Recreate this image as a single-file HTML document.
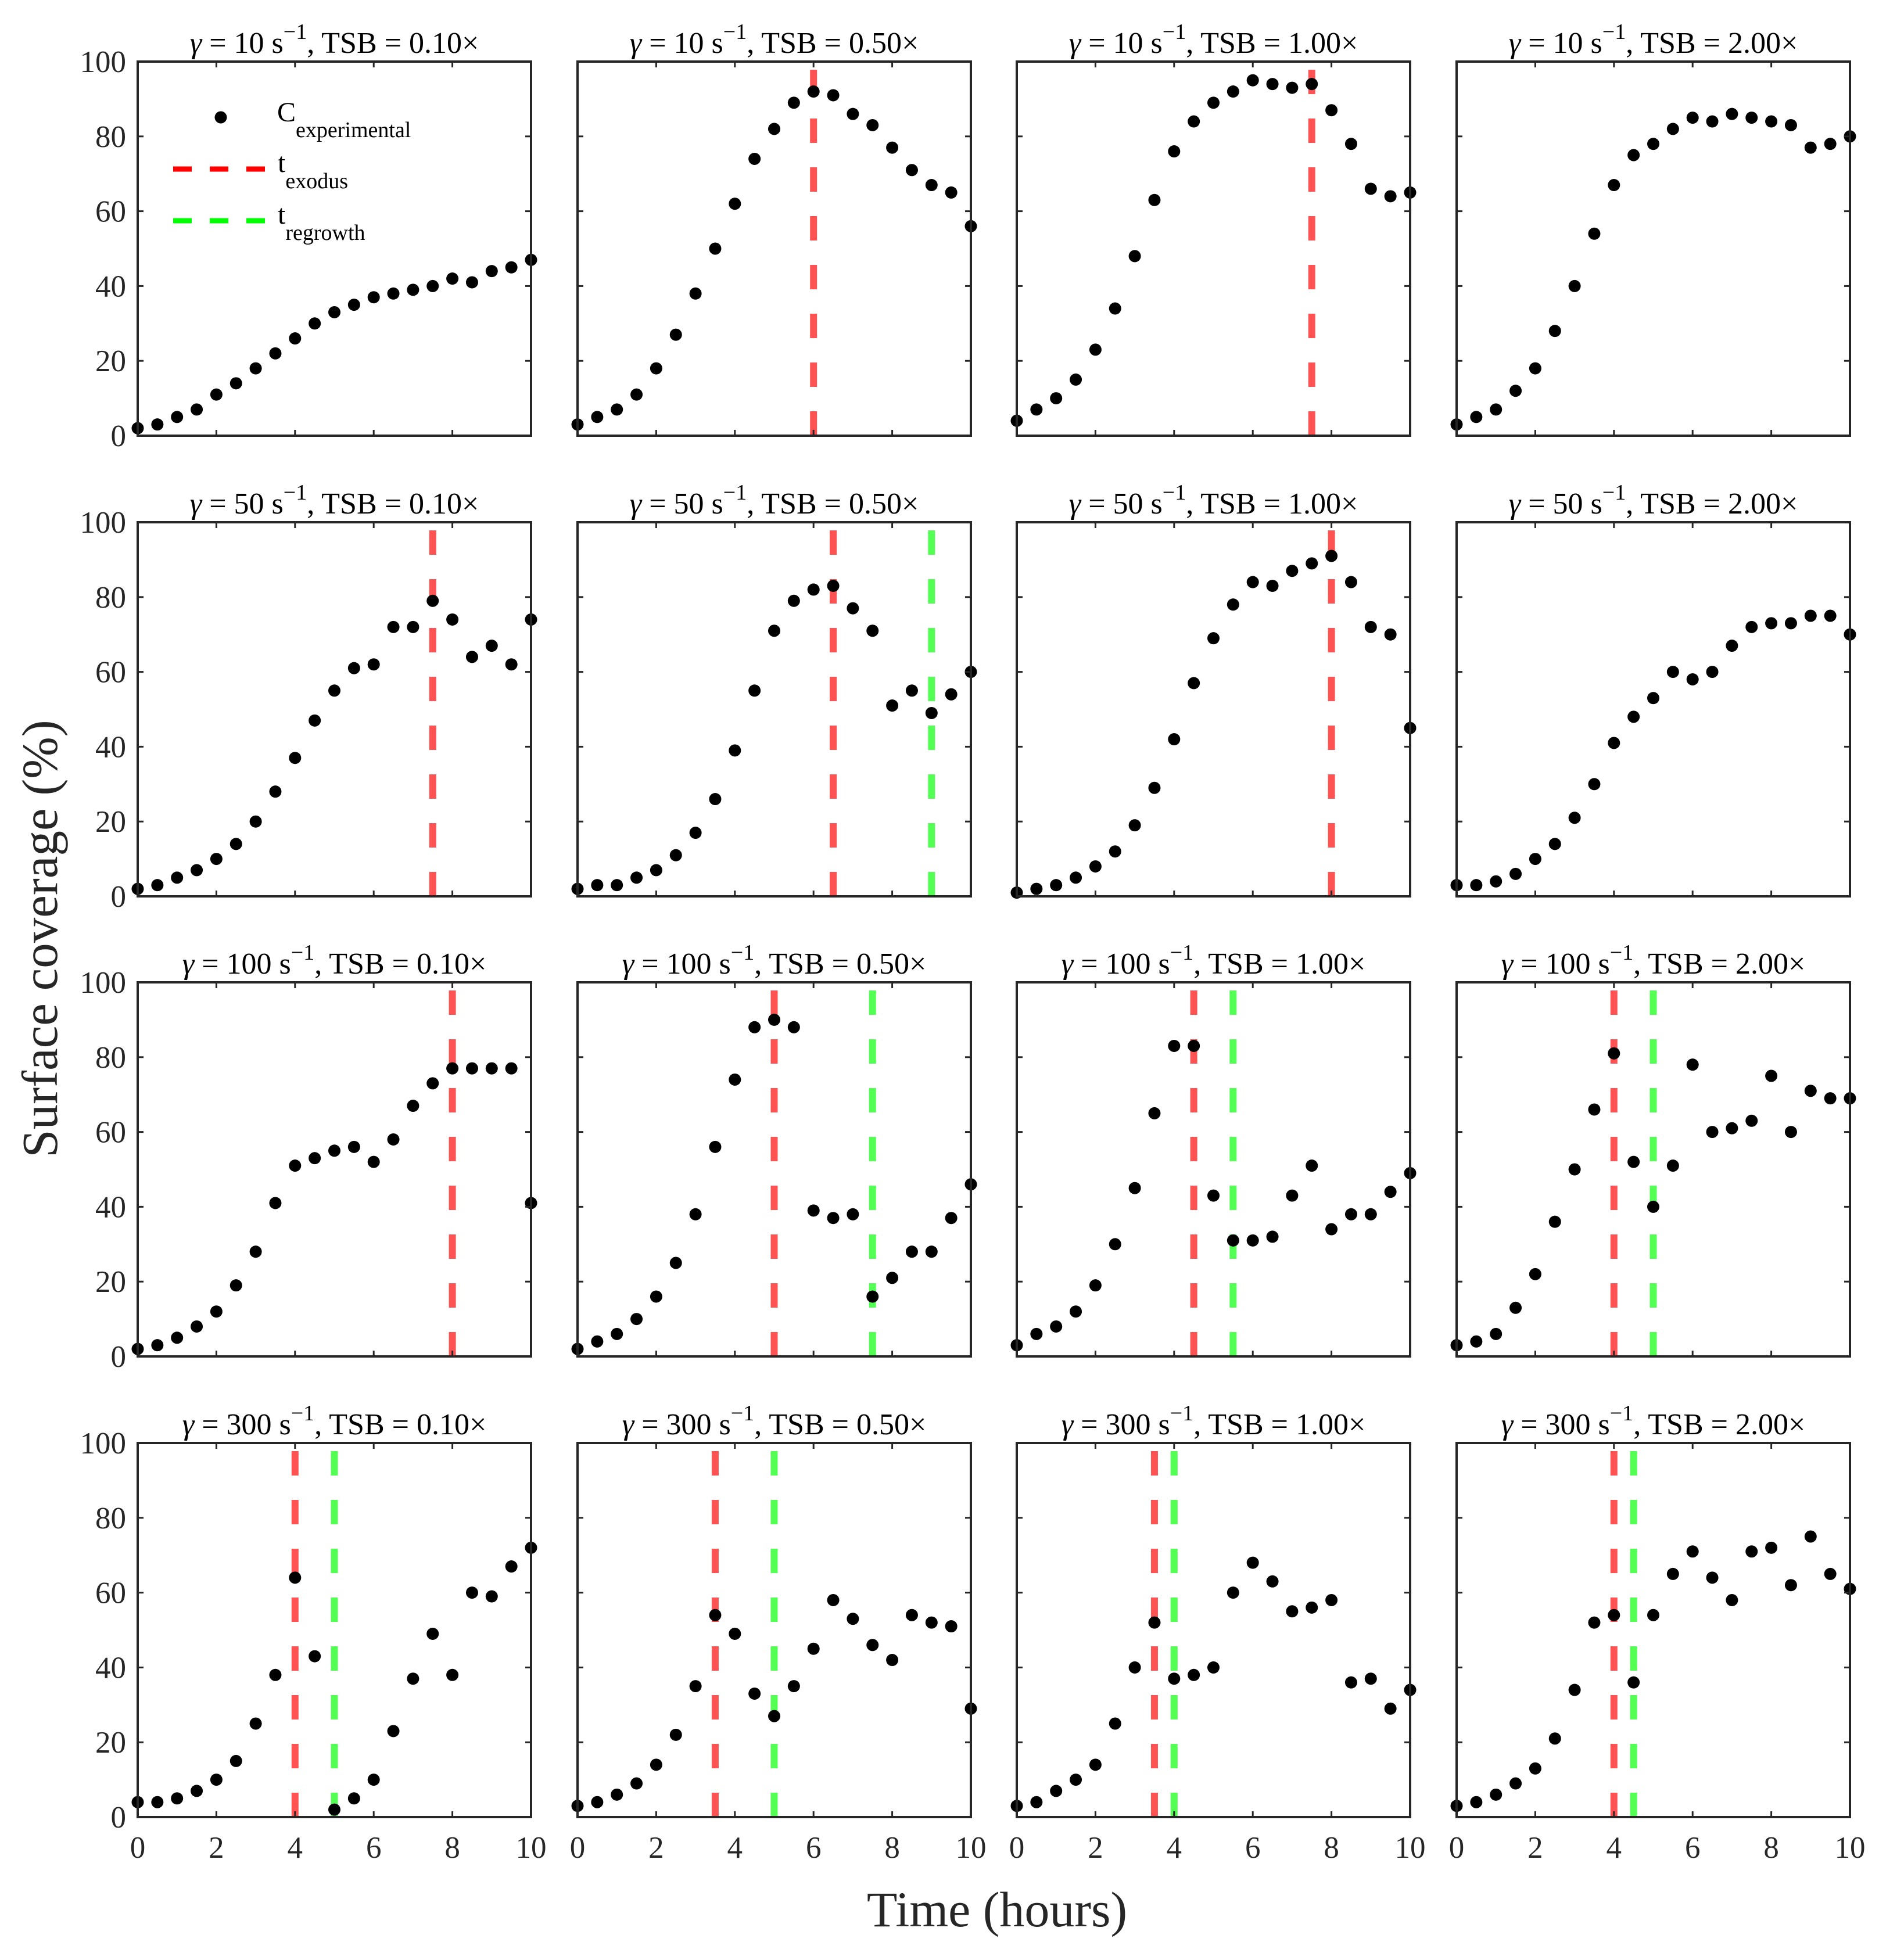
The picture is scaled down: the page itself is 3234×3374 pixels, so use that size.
<!DOCTYPE html>
<html><head><meta charset="utf-8"><style>
html,body{margin:0;padding:0;background:#fff;}
svg{display:block;font-family:"Liberation Serif","DejaVu Serif",serif;}
</style></head><body>
<svg id="fig" width="3234" height="3374" viewBox="0 0 3234 3374" xmlns="http://www.w3.org/2000/svg">
<text x="0" y="0" transform="translate(98,1616) rotate(-90)" text-anchor="middle" font-size="87" fill="#262626">Surface coverage (%)</text>
<text x="1716" y="3316" text-anchor="middle" font-size="86" fill="#262626">Time (hours)</text>
</svg>
<script>
const timePoints = [0,0.5,1,1.5,2,2.5,3,3.5,4,4.5,5,5.5,6,6.5,7,7.5,8,8.5,9,9.5,10];
const shearRates = [10,50,100,300];
const tsbLabels = ["0.10","0.50","1.00","2.00"];
const yTicks = [0,20,40,60,80,100];
const xTicks = [0,2,4,6,8,10];
const cov_10_010 = [2,3,5,7,11,14,18,22,26,30,33,35,37,38,39,40,42,41,44,45,47];
const cov_10_050 = [3,5,7,11,18,27,38,50,62,74,82,89,92,91,86,83,77,71,67,65,56];
const cov_10_100 = [4,7,10,15,23,34,48,63,76,84,89,92,95,94,93,94,87,78,66,64,65];
const cov_10_200 = [3,5,7,12,18,28,40,54,67,75,78,82,85,84,86,85,84,83,77,78,80];
const cov_50_010 = [2,3,5,7,10,14,20,28,37,47,55,61,62,72,72,79,74,64,67,62,74];
const cov_50_050 = [2,3,3,5,7,11,17,26,39,55,71,79,82,83,77,71,51,55,49,54,60];
const cov_50_100 = [1,2,3,5,8,12,19,29,42,57,69,78,84,83,87,89,91,84,72,70,45];
const cov_50_200 = [3,3,4,6,10,14,21,30,41,48,53,60,58,60,67,72,73,73,75,75,70];
const cov_100_010 = [2,3,5,8,12,19,28,41,51,53,55,56,52,58,67,73,77,77,77,77,41];
const cov_100_050 = [2,4,6,10,16,25,38,56,74,88,90,88,39,37,38,16,21,28,28,37,46];
const cov_100_100 = [3,6,8,12,19,30,45,65,83,83,43,31,31,32,43,51,34,38,38,44,49];
const cov_100_200 = [3,4,6,13,22,36,50,66,81,52,40,51,78,60,61,63,75,60,71,69,69];
const cov_300_010 = [4,4,5,7,10,15,25,38,64,43,2,5,10,23,37,49,38,60,59,67,72];
const cov_300_050 = [3,4,6,9,14,22,35,54,49,33,27,35,45,58,53,46,42,54,52,51,29];
const cov_300_100 = [3,4,7,10,14,25,40,52,37,38,40,60,68,63,55,56,58,36,37,29,34];
const cov_300_200 = [3,4,6,9,13,21,34,52,54,36,54,65,71,64,58,71,72,62,75,65,61];
const coverage = [
 [cov_10_010,cov_10_050,cov_10_100,cov_10_200],
 [cov_50_010,cov_50_050,cov_50_100,cov_50_200],
 [cov_100_010,cov_100_050,cov_100_100,cov_100_200],
 [cov_300_010,cov_300_050,cov_300_100,cov_300_200]];
const exodusTimes = [
 [null,6,7.5,null],
 [7.5,6.5,8,null],
 [8,5,4.5,4],
 [4,3.5,3.5,4]];
const regrowthTimes = [
 [null,null,null,null],
 [null,9,null,null],
 [null,7.5,5.5,5],
 [5,5,4,4.5]];

const NS="http://www.w3.org/2000/svg";
const svg=document.getElementById('fig');
const colLeft=[237,994,1750,2507], W=677;
const rowTop=[106,899,1691,2484], H=644;
const AX="#262626";
function mk(tag,attrs,parent){const e=document.createElementNS(NS,tag);for(const k in attrs)e.setAttribute(k,attrs[k]);(parent||svg).appendChild(e);return e;}

for(let r=0;r<4;r++){for(let c=0;c<4;c++){
  const L=colLeft[c],T=rowTop[r],B=T+H,R=L+W;
  const xs=v=>L+v/10*W, ys=v=>B-v/100*H;
  const g=mk('g',{});
  
  
  const t=mk('text',{x:L+W/2,y:T-15,'text-anchor':'middle','font-size':52,fill:'#000'},g);
  
  
  t.innerHTML='<tspan font-style="italic">γ</tspan> = '+shearRates[r]+' s<tspan dy="-24" font-size="38">−1</tspan><tspan dy="24">, TSB = '+tsbLabels[c]+'×</tspan>';
  const drawV=(val,color,name)=>{ if(val==null)return;
    const ln=mk('line',{x1:xs(val),x2:xs(val),y1:B,y2:T,stroke:color,'stroke-width':12,'stroke-dasharray':'42 42'},g);
    
    };
  drawV(exodusTimes[r][c],'#ff5252','t-exodus-line');
  drawV(regrowthTimes[r][c],'#52ff52','t-regrowth-line');
  const d=coverage[r][c];
  for(let i=0;i<timePoints.length;i++){
    const p=mk('circle',{cx:xs(timePoints[i]),cy:ys(d[i]),r:10.5,fill:'#000'},g);
    
    
  }
  for(const v of yTicks){
    if(v>0&&v<100){mk('line',{x1:L,x2:L+10,y1:ys(v),y2:ys(v),stroke:AX,'stroke-width':3},g);
    mk('line',{x1:R,x2:R-10,y1:ys(v),y2:ys(v),stroke:AX,'stroke-width':3},g);}
    if(c===0){const tl=mk('text',{x:L-20,y:ys(v)+18,'text-anchor':'end','font-size':53,fill:AX},g);
      
      
      tl.textContent=v;}
  }
  for(const v of xTicks){
    if(v>0&&v<10){mk('line',{x1:xs(v),x2:xs(v),y1:B,y2:B-10,stroke:AX,'stroke-width':3},g);
    mk('line',{x1:xs(v),x2:xs(v),y1:T,y2:T+10,stroke:AX,'stroke-width':3},g);}
    if(r===3){const tl=mk('text',{x:xs(v),y:3198,'text-anchor':'middle','font-size':53,fill:AX},g);
      
      
      tl.textContent=v;}
  }
  const box=mk('rect',{x:L,y:T,width:W,height:H,fill:'none',stroke:AX,'stroke-width':4},g);
  
  
}}
const lg=mk('g',{});


mk('circle',{cx:380,cy:202,r:10.5,fill:'#000'},lg);
const l1=mk('text',{x:477,y:209,'font-size':48,fill:'#000'},lg);


l1.innerHTML='C<tspan dy="27" font-size="38">experimental</tspan>';
mk('line',{x1:298,x2:459,y1:291,y2:291,stroke:'#ff0000','stroke-width':9,'stroke-dasharray':'32 31'},lg);
const l2=mk('text',{x:478,y:296,'font-size':48,fill:'#000'},lg);


l2.innerHTML='t<tspan dy="28" font-size="38">exodus</tspan>';
mk('line',{x1:298,x2:459,y1:380,y2:380,stroke:'#00ff00','stroke-width':9,'stroke-dasharray':'32 31'},lg);
const l3=mk('text',{x:478,y:385,'font-size':48,fill:'#000'},lg);


l3.innerHTML='t<tspan dy="28" font-size="38">regrowth</tspan>';
</script>
</body></html>
